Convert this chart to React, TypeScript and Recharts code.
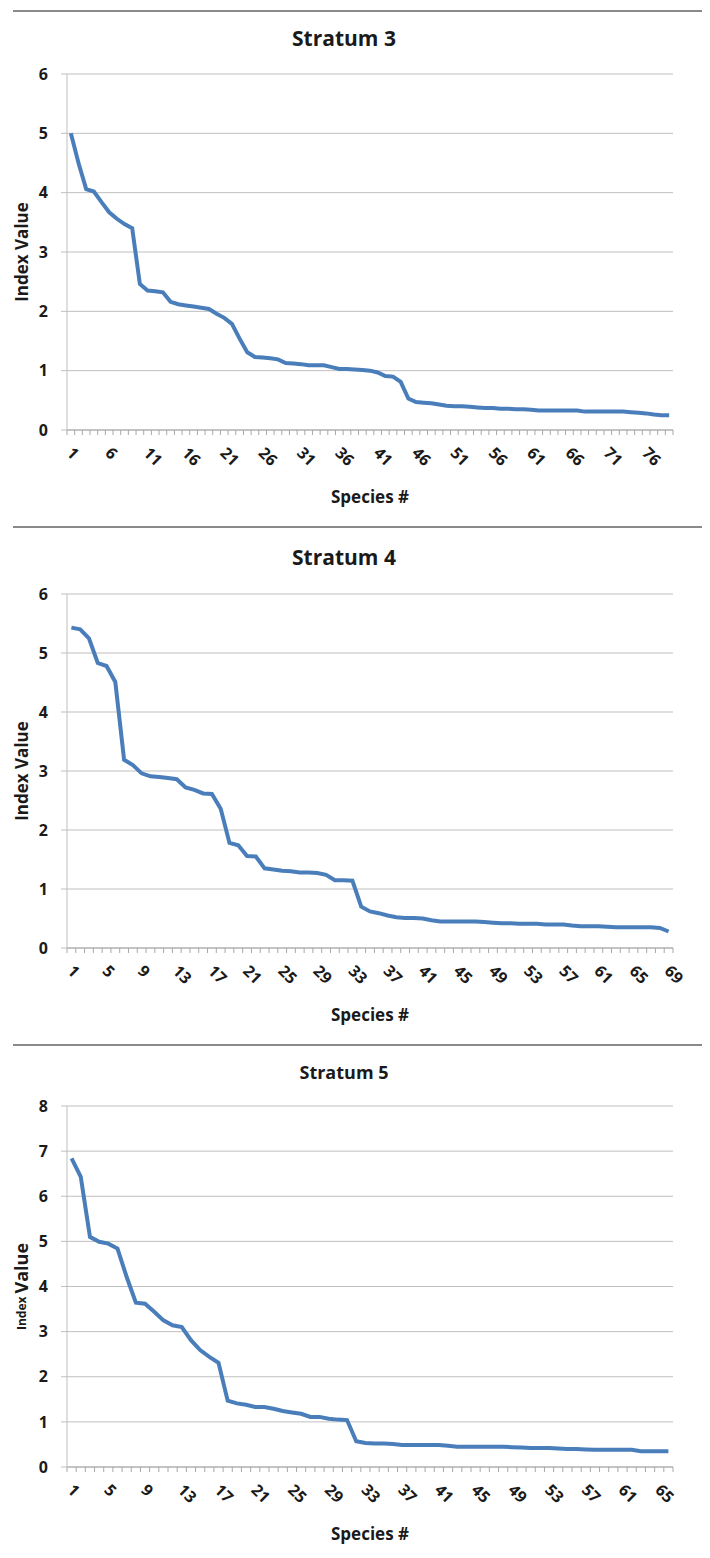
import React from "react";
import { CartesianGrid, Label, Line, LineChart, XAxis, YAxis } from "recharts";

// index values, species ranked 1..N
const stratum3Values = [
  5.0, 4.5, 4.06, 4.02, 3.84, 3.67, 3.56, 3.47, 3.4, 2.46,
  2.35, 2.34, 2.32, 2.16, 2.12, 2.1, 2.08, 2.06, 2.04, 1.96,
  1.89, 1.79, 1.54, 1.31, 1.23, 1.22, 1.21, 1.19, 1.13, 1.12,
  1.11, 1.09, 1.09, 1.09, 1.06, 1.03, 1.03, 1.02, 1.01, 1.0,
  0.97, 0.91, 0.9, 0.81, 0.53, 0.47, 0.46, 0.45, 0.43, 0.41,
  0.4, 0.4, 0.39, 0.38, 0.37, 0.37, 0.36, 0.36, 0.35, 0.35,
  0.34, 0.33, 0.33, 0.33, 0.33, 0.33, 0.33, 0.31, 0.31, 0.31,
  0.31, 0.31, 0.31, 0.3, 0.29, 0.28, 0.26, 0.25, 0.25,
];

const stratum4Values = [
  5.43, 5.4, 5.25, 4.83, 4.78, 4.51, 3.19, 3.1, 2.96, 2.91,
  2.9, 2.88, 2.86, 2.72, 2.68, 2.62, 2.61, 2.36, 1.78, 1.74,
  1.56, 1.55, 1.35, 1.33, 1.31, 1.3, 1.28, 1.28, 1.27, 1.24,
  1.15, 1.15, 1.14, 0.7, 0.62, 0.59, 0.55, 0.52, 0.51, 0.51,
  0.5, 0.47, 0.45, 0.45, 0.45, 0.45, 0.45, 0.44, 0.43, 0.42,
  0.42, 0.41, 0.41, 0.41, 0.4, 0.4, 0.4, 0.38, 0.37, 0.37,
  0.37, 0.36, 0.35, 0.35, 0.35, 0.35, 0.35, 0.34, 0.28,
];

const stratum5Values = [
  6.84, 6.43, 5.1, 4.99, 4.95, 4.84, 4.21, 3.64, 3.62, 3.44,
  3.25, 3.14, 3.1, 2.81, 2.59, 2.44, 2.31, 1.47, 1.41, 1.38,
  1.33, 1.33, 1.29, 1.24, 1.21, 1.18, 1.11, 1.11, 1.07, 1.05,
  1.04, 0.57, 0.53, 0.52, 0.52, 0.51, 0.49, 0.49, 0.49, 0.49,
  0.49, 0.47, 0.45, 0.45, 0.45, 0.45, 0.45, 0.45, 0.44, 0.43,
  0.42, 0.42, 0.42, 0.41, 0.4, 0.4, 0.39, 0.38, 0.38, 0.38,
  0.38, 0.38, 0.35, 0.35, 0.35, 0.35,
];

const stratum3Labels = [1, 6, 11, 16, 21, 26, 31, 36, 41, 46, 51, 56, 61, 66, 71, 76];
const stratum4Labels = [1, 5, 9, 13, 17, 21, 25, 29, 33, 37, 41, 45, 49, 53, 57, 61, 65, 69];
const stratum5Labels = [1, 5, 9, 13, 17, 21, 25, 29, 33, 37, 41, 45, 49, 53, 57, 61, 65];

const yTicks6 = [0, 1, 2, 3, 4, 5, 6];
const yTicks8 = [0, 1, 2, 3, 4, 5, 6, 7, 8];

const FONT = "'Open Sans', 'DejaVu Sans', sans-serif";
const INK = "#1a1a1a";
const GRID = "#bfbfbf";
const BLUE = "#4a7ebb";

const XLabelTick = (props: any) => {
  const { x, y, payload } = props;
  return (
    <g transform={`translate(${x - 5},${y + 23})`}>
      <text
        transform="rotate(45)"
        textAnchor="start"
        fontFamily={FONT}
        fontSize={16}
        fontWeight={700}
        fill={INK}
      >
        {payload.value}
      </text>
    </g>
  );
};

const YTitle = ({ viewBox, split }: any) => {
  const cy = viewBox.y + viewBox.height / 2;
  return (
    <text
      transform={`translate(21,${cy}) rotate(-90)`}
      textAnchor="middle"
      dominantBaseline="central"
      fontFamily={FONT}
      fontWeight={700}
      fontSize={17}
      fill={INK}
    >
      {split ? (
        <>
          <tspan fontSize={12}>Index </tspan>
          <tspan fontSize={18}>Value</tspan>
        </>
      ) : (
        "Index Value"
      )}
    </text>
  );
};

const XTitle = ({ viewBox }: any) => (
  <text
    x={viewBox.x + viewBox.width / 2}
    y={viewBox.y + 65}
    textAnchor="middle"
    dominantBaseline="central"
    fontFamily={FONT}
    fontWeight={700}
    fontSize={17}
    fill={INK}
  >
    Species #
  </text>
);

interface PanelProps {
  title: string;
  titleSize: number;
  titleY: number;
  values: number[];
  labels: number[];
  yTicks: number[];
  top: number;
  plotTop: number;
  plotBottom: number;
  splitY?: boolean;
}

const H = 518;

const Panel = ({ title, titleSize, titleY, values, labels, yTicks, top, plotTop, plotBottom, splitY }: PanelProps) => {
  const data = values.map((v, k) => ({ i: k + 1, v }));
  const n = values.length;
  const bounds = Array.from({ length: n + 1 }, (_, k) => k + 0.5);
  const yMax = yTicks[yTicks.length - 1];
  return (
    <>
      <div
        style={{ position: "absolute", left: 13, top, width: 689, height: 2, background: "#8a8a8a" }}
      />
      <div
        style={{
          position: "absolute",
          left: 244,
          width: 200,
          top: titleY - 20,
          height: 40,
          lineHeight: "40px",
          textAlign: "center",
          fontFamily: FONT,
          fontWeight: 700,
          fontSize: titleSize,
          color: INK,
        }}
      >
        {title}
      </div>
      <div style={{ position: "absolute", left: 0, top }}>
        <LineChart
          width={710}
          height={H}
          data={data}
          margin={{ top: plotTop - top, right: 37, bottom: 0, left: 0 }}
        >
          <CartesianGrid xAxisId="a" vertical={false} stroke={GRID} />
          {/* labels axis (species numbers every few categories) */}
          <XAxis
            xAxisId="b"
            type="number"
            dataKey="i"
            domain={[0.5, n + 0.5]}
            allowDataOverflow
            ticks={labels}
            interval={0}
            tickLine={false}
            axisLine={false}
            tickSize={0}
            tickMargin={0}
            tick={<XLabelTick />}
            height={H - (plotBottom - top) - 1}
          >
            <Label content={<XTitle />} />
          </XAxis>
          {/* tick marks between categories */}
          <XAxis
            xAxisId="a"
            type="number"
            dataKey="i"
            domain={[0.5, n + 0.5]}
            allowDataOverflow
            ticks={bounds}
            interval={0}
            tickSize={5}
            tickFormatter={() => ""}
            stroke="#a8a8a8"
            height={1}
          />
          <YAxis
            type="number"
            domain={[0, yMax]}
            ticks={yTicks}
            interval={0}
            width={67}
            stroke={GRID}
            tickSize={6}
            tickMargin={13}
            tick={{ fontFamily: FONT, fontSize: 16, fontWeight: 700, fill: INK }}
          >
            <Label content={<YTitle split={splitY} />} />
          </YAxis>
          <Line
            xAxisId="a"
            type="linear"
            dataKey="v"
            stroke={BLUE}
            strokeWidth={4}
            dot={false}
            activeDot={false}
            isAnimationActive={false}
          />
        </LineChart>
      </div>
    </>
  );
};

export default function App() {
  return (
    <div
      style={{
        position: "absolute",
        left: 0,
        top: 0,
        width: 710,
        height: 1558,
        overflow: "hidden",
        background: "#fff",
      }}
    >
      <Panel
        title="Stratum 3"
        titleSize={21}
        titleY={38}
        values={stratum3Values}
        labels={stratum3Labels}
        yTicks={yTicks6}
        top={10}
        plotTop={74}
        plotBottom={430}
      />
      <Panel
        title="Stratum 4"
        titleSize={21}
        titleY={557}
        values={stratum4Values}
        labels={stratum4Labels}
        yTicks={yTicks6}
        top={526}
        plotTop={594}
        plotBottom={948}
      />
      <Panel
        title="Stratum 5"
        titleSize={18}
        titleY={1072}
        values={stratum5Values}
        labels={stratum5Labels}
        yTicks={yTicks8}
        top={1044}
        plotTop={1106}
        plotBottom={1467}
        splitY
      />
    </div>
  );
}
